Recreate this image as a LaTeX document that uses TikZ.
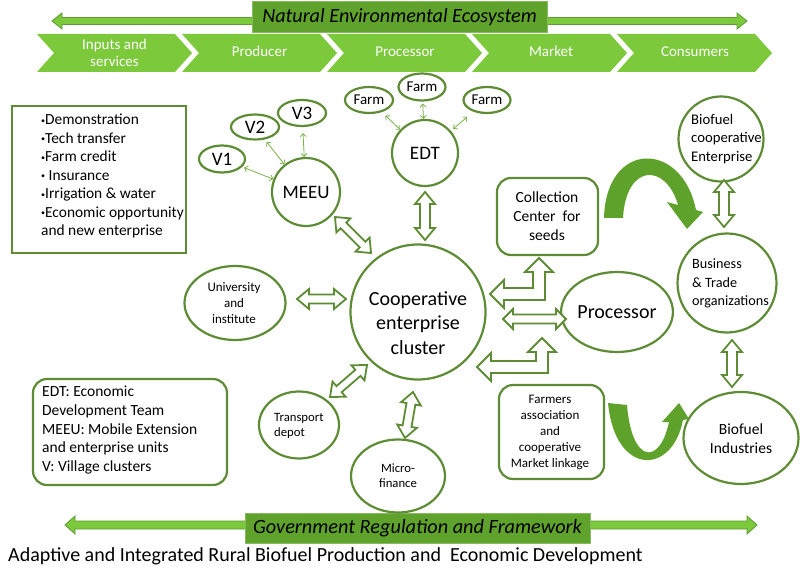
\documentclass[tikz,border=0pt]{standalone}
\usepackage{fontspec}
\setmainfont{Carlito}
\usetikzlibrary{shapes.geometric,calc,arrows.meta}
\definecolor{og}{HTML}{5E8C35}
\definecolor{chev}{HTML}{7CC93C}
\definecolor{chevd}{HTML}{5E9A35}
\definecolor{ban}{HTML}{5FA22C}
\definecolor{thing}{HTML}{78B04A}
\definecolor{curv}{HTML}{5EA22B}
\newcommand\fs[2]{\fontsize{#1}{#2}\selectfont}
\newcommand\bul{\raisebox{1.5pt}{\fs{8}{8}•}}
\tikzset{
 shp/.style={draw=og, line width=2.2pt, fill=white, inner sep=0pt},
 circ/.style={shp, circle, minimum size=#1},
 ell/.style 2 args={shp, ellipse, minimum width=#1, minimum height=#2},
 rbox/.style 2 args={shp, rounded corners=14pt, minimum width=#1, minimum height=#2},
 sbox/.style 2 args={shp, minimum width=#1, minimum height=#2},
 tx/.style={inner sep=0pt},
 banner/.style={fill=ban, draw=ban!75!white, line width=1pt, inner sep=0pt},
 chevtx/.style={inner sep=0pt, text=white, font=\fs{15}{16.5}, align=center},
 longarr/.style={fill=chev, draw=chevd, line width=0.8pt},
 hol/.style={draw=og, line width=1.8pt, fill=white, line join=miter},
 thinarr/.style={draw=thing, line width=0.8pt, <->, >={Straight Barb[length=3pt,width=6pt]}},
 blockarr/.style n args={3}{to path={
  -- ($(\tikztostart)!#1!(\tikztotarget)!#2!90:(\tikztotarget)$)
  -- ($(\tikztostart)!#1!(\tikztotarget)!#3!90:(\tikztotarget)$)
  -- ($(\tikztotarget)!#1!(\tikztostart)!#3!-90:(\tikztostart)$)
  -- ($(\tikztotarget)!#1!(\tikztostart)!#2!-90:(\tikztostart)$)
  -- (\tikztotarget)
  -- ($(\tikztotarget)!#1!(\tikztostart)!#2!90:(\tikztostart)$)
  -- ($(\tikztotarget)!#1!(\tikztostart)!#3!90:(\tikztostart)$)
  -- ($(\tikztostart)!#1!(\tikztotarget)!#3!-90:(\tikztotarget)$)
  -- ($(\tikztostart)!#1!(\tikztotarget)!#2!-90:(\tikztotarget)$)
  -- cycle}}
}
\begin{document}
\begin{tikzpicture}[x=1pt,y=-1pt]
\useasboundingbox (0,0) rectangle (800,569);
% long arrows and banners
\coordinate (tl) at (52,21); \coordinate (tr) at (747,21);
\draw[longarr] (tl) to[blockarr={10pt}{8pt}{3.5pt}] (tr);
\coordinate (bl) at (65,525); \coordinate (br) at (757,525);
\draw[longarr] (bl) to[blockarr={10pt}{9pt}{4pt}] (br);
\node[banner, minimum width=295pt, minimum height=31pt, font=\fs{20.2}{22}\itshape] (nee) at (399.5,17.5) {Natural Environmental Ecosystem};
\node[banner, minimum width=345pt, minimum height=30pt, font=\fs{20.3}{22}\itshape] (grf) at (417.5,528) {Government Regulation and Framework};
% chevrons
\foreach \i in {0,...,4} {
  \fill[chev] ({37+145*\i},34) -- ++(138,0) -- ++(17,19) -- ++(-17,19) -- ++(-138,0) -- ++(17,-19) -- cycle;
}
\node[chevtx] (c1) at (114.5,53) {Inputs and\\services};
\node[chevtx, anchor=base] (c2) at (259.5,57) {Producer};
\node[chevtx, anchor=base] (c3) at (405,57) {Processor};
\node[chevtx, anchor=base] (c4) at (551,57) {Market};
\node[chevtx, anchor=base] (c5) at (695,57) {Consumers};
% left box
\node[sbox={174pt}{147pt}] (lbox) at (99,179.5) {};
\node[tx, anchor=west, align=left, font=\fs{15.4}{18.5}] (lboxt) at (41,176)
 {\bul Demonstration\\\bul Tech transfer\\\bul Farm credit\\\bul\ Insurance\\\bul Irrigation \& water\\\bul Economic opportunity\\and new enterprise};
% legend
\node[rbox={194pt}{106pt}] (leg) at (130,432) {};
\node[tx, anchor=west, align=left, font=\fs{15.5}{18.75}] (legt) at (42,430)
 {EDT: Economic\\Development Team\\MEEU: Mobile Extension\\and enterprise units\\V: Village clusters};
% V and MEEU
\node[ell={46pt}{27pt}, font=\fs{19}{22}] (v1) at (222,159) {V1};
\node[ell={48pt}{25pt}, font=\fs{19}{22}] (v2) at (255,127) {V2};
\node[ell={48pt}{26pt}, font=\fs{19}{22}] (v3) at (302,113) {V3};
\node[circ=68pt, font=\fs{19}{22}] (meeu) at (306,192) {MEEU};
\draw[thinarr, shorten <=2pt] (v1) -- (meeu);
\draw[thinarr, shorten <=3pt] (v2) -- (meeu);
\draw[thinarr, shorten <=6pt] (v3) -- (meeu);
% farms and EDT
\node[ell={48pt}{26pt}, font=\fs{15}{18}] (f1) at (369,100) {Farm};
\node[ell={47pt}{27pt}, font=\fs{15}{18}] (f2) at (422,87) {Farm};
\node[ell={47pt}{26pt}, font=\fs{15}{18}] (f3) at (487,100) {Farm};
\node[circ=66pt, font=\fs{19}{22}] (edt) at (425,153) {EDT};
\draw[thinarr, shorten <=5pt] (f1) -- (edt);
\draw[thinarr, shorten <=2pt] (f2) -- (edt);
\draw[thinarr, shorten <=8pt, shorten >=3pt] (f3) -- (edt);
% cooperative cluster
\node[circ=135pt] (coop) at (418,312) {};
\node[tx, align=center, font=\fs{20}{24.5}] (coopt) at (418,323) {Cooperative\\enterprise\\cluster};
% university, transport, micro
\node[ell={101pt}{74pt}] (univ) at (235,303) {};
\node[tx, align=center, font=\fs{13}{16}] (univt) at (234,303) {University\\and\\institute};
\node[ell={80pt}{67pt}] (trans) at (299,425) {};
\node[tx, anchor=west, align=left, font=\fs{12.7}{15}] (transt) at (274,425.5) {Transport\\depot};
\node[ell={94pt}{73pt}] (micro) at (398,476) {};
\node[tx, align=center, font=\fs{12.7}{15}] (microt) at (398,475.5) {Micro-\\finance};
% right side
\node[rbox={101pt}{77pt}] (coll) at (547.5,216.5) {};
\node[tx, align=center, font=\fs{15.5}{19}] (collt) at (547,216) {Collection\\Center~~for\\seeds};
\node[ell={94pt}{80pt}, font=\fs{20}{24}] (proc) at (617,312) {Processor};
\node[rbox={105pt}{94pt}] (farm) at (551.5,432) {};
\node[tx, align=center, font=\fs{13}{16}] (farmt) at (550,432) {Farmers\\association\\and\\cooperative\\Market linkage};
\node[circ=85pt] (bce) at (721,139) {};
\node[tx, anchor=west, align=left, font=\fs{14.7}{18.5}] (bcet) at (691,139) {Biofuel\\cooperative\\Enterprise};
\node[circ=99pt] (bto) at (727,283) {};
\node[tx, anchor=west, align=left, font=\fs{14.2}{18.5}] (btot) at (692,283.5) {Business\\\& Trade\\organizations};
\node[ell={115pt}{92pt}] (bi) at (741,438) {};
\node[tx, align=center, font=\fs{15.5}{19}] (bit) at (741,438.5) {Biofuel\\Industries};
% hollow double arrows
\coordinate (a1) at (335,217); \coordinate (a2) at (371,253);
\draw[hol] (a1) to[blockarr={12pt}{10pt}{4pt}] (a2);
\coordinate (b1) at (425,192); \coordinate (b2) at (425,240);
\draw[hol] (b1) to[blockarr={12pt}{10pt}{5pt}] (b2);
\coordinate (c1a) at (297,299); \coordinate (c2a) at (346,299);
\draw[hol] (c1a) to[blockarr={12pt}{10pt}{4.5pt}] (c2a);
\coordinate (d1) at (330,397); \coordinate (d2) at (367,365);
\draw[hol] (d1) to[blockarr={12pt}{10pt}{4pt}] (d2);
\coordinate (e1) at (405,438); \coordinate (e2) at (413,392);
\draw[hol] (e1) to[blockarr={12pt}{10pt}{4.5pt}] (e2);
\coordinate (g1) at (503,319); \coordinate (g2) at (566,319);
\draw[hol] (g1) to[blockarr={10pt}{10pt}{4.5pt}] (g2);
\coordinate (h1) at (724,180); \coordinate (h2) at (724,227);
\draw[hol] (h1) to[blockarr={12pt}{10pt}{5pt}] (h2);
\coordinate (k1) at (732,340); \coordinate (k2) at (732,387);
\draw[hol] (k1) to[blockarr={12pt}{10pt}{5pt}] (k2);
% L-shaped arrows
\draw[hol] (490,294) -- (504,280) -- (504,288) -- (533,288) -- (533,272) -- (525,272) -- (539,258)
  -- (553,272) -- (545,272) -- (545,300) -- (504,300) -- (504,308) -- cycle;
\draw[hol] (477,367) -- (491,353) -- (491,361) -- (536,361) -- (536,352) -- (528,352) -- (542,338)
  -- (556,352) -- (548,352) -- (548,373) -- (491,373) -- (491,381) -- cycle;
% curved arrows
\fill[curv] (604,218) .. controls (606,140) and (682,140) .. (696,210) -- (703,212) -- (687,229)
  -- (667,202) -- (678,205) .. controls (666,163) and (626,163) .. (623,218) -- cycle;
\fill[curv] (608,403) .. controls (615,476) and (672,476) .. (683,420) -- (689,419) -- (679,403)
  -- (662,422) -- (669,422) .. controls (660,465) and (632,465) .. (627,405) -- cycle;
% caption
\node[tx, anchor=base west, font=\fs{20}{22}] (cap) at (8,561)
 {Adaptive and Integrated Rural Biofuel Production and~~Economic Development};
\end{tikzpicture}
\end{document}
